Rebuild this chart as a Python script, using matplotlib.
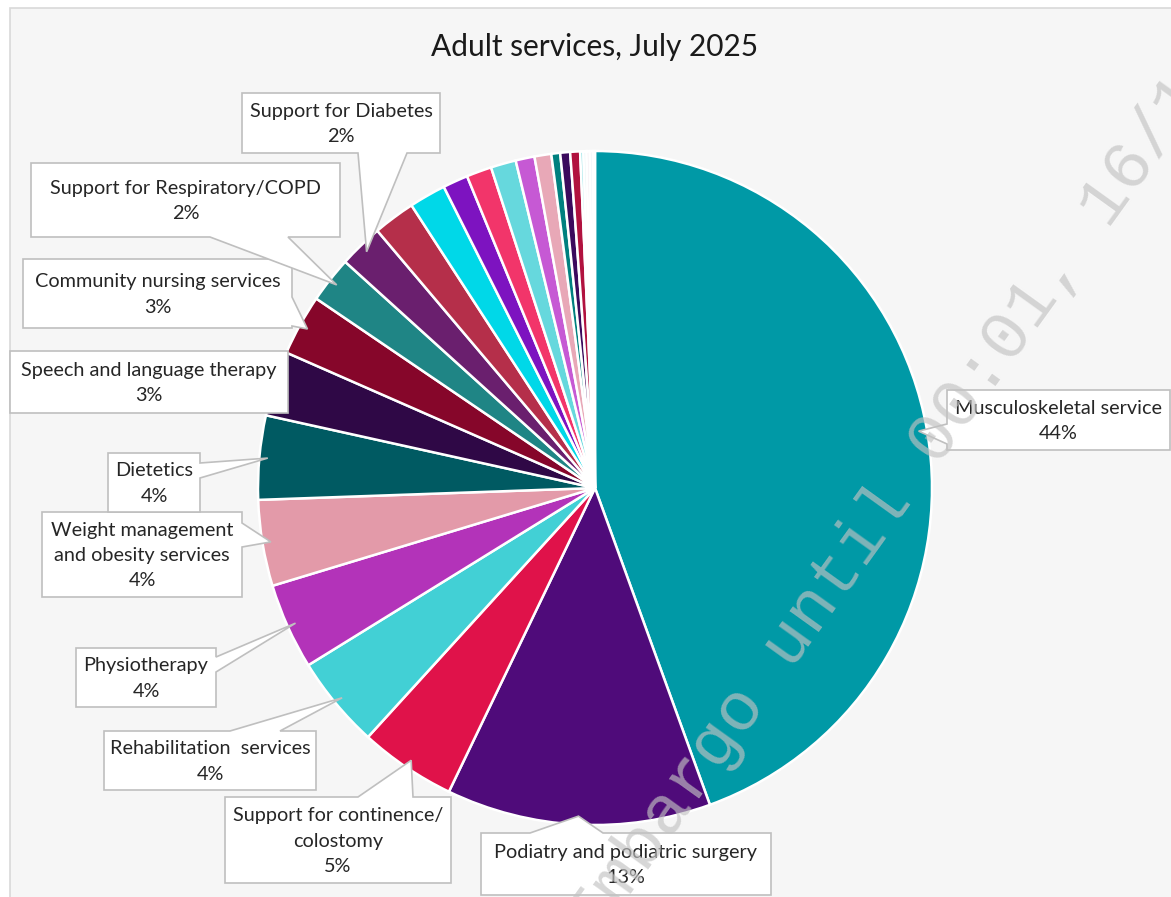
import numpy as np
import matplotlib
matplotlib.use("Agg")
import matplotlib.pyplot as plt
from matplotlib.patches import Polygon, Rectangle

# ---------------------------------------------------------------- data
services = [
    "Musculoskeletal service",
    "Podiatry and podiatric surgery",
    "Support for continence/\ncolostomy",
    "Rehabilitation  services",
    "Physiotherapy",
    "Weight management\nand obesity services",
    "Dietetics",
    "Speech and language therapy",
    "Community nursing services",
    "Support for Respiratory/COPD",
    "Support for Diabetes",
] + [None] * 15

shares = [44.2, 12.6, 4.6, 4.4, 4.1, 4.1, 4.0, 3.1, 2.9, 2.2, 2.1,
          2.0, 1.75, 1.2, 1.2, 1.2, 0.9, 0.8, 0.42, 0.47, 0.47, 0.15,
          0.15, 0.15, 0.15, 0.1]

colors = ["#0099A6", "#4F0B7A", "#E0124A", "#42D0D5", "#B333B9", "#E39AA9",
          "#005A62", "#2F0846", "#86062A", "#1F8585", "#6A1F6E",
          "#B52F4A", "#00D8E8", "#7D13C0", "#F2356A", "#66D8DD", "#C659D4",
          "#E8A8B7", "#00807F", "#3B0A5D", "#B1123F", "#7ADCE0",
          "#E6F4F5", "#F1E6EE", "#E9F1F7", "#F3EEF0"]

title = "Adult services, July 2025"
watermark = "Embargo until 00:01, 16/10/2025"

# ---------------------------------------------------------------- layout
W, H, DPI = 1171, 897, 100
CX, CY, R = 595, 488, 337                    # pie centre / radius in px

# callout boxes (px, y down): box, pointer side, pointer base span
callouts = {
    0: ((947, 390, 1170, 450), "left", (424, 444)),
    1: ((481, 833, 771, 895), "top", (530, 603)),
    2: ((225, 797, 451, 883), "top", (358, 413)),
    3: ((104, 731, 316, 790), "top", (230, 280)),
    4: ((76, 648, 216, 707), "right", (657, 672)),
    5: ((42, 512, 242, 597), "right", (523, 547)),
    6: ((108, 453, 200, 512), "right", (463, 478)),
    7: ((10, 351, 288, 413), None, None),
    8: ((23, 259, 292, 328), "right", (297, 326)),
    9: ((31, 163, 340, 237), "bottom", (210, 288)),
    10: ((242, 93, 440, 153), "bottom", (358, 407)),
}

LABEL_FONT = ["Lato", "DejaVu Sans"]

fig = plt.figure(figsize=(W / DPI, H / DPI), dpi=DPI, facecolor="white")

# background panel
bg = fig.add_axes([0, 0, 1, 1], zorder=0)
bg.set_xlim(0, W)
bg.set_ylim(H, 0)
bg.axis("off")
bg.add_patch(Rectangle((10, 8), W + 20, H + 20, facecolor="#F6F6F6",
                       edgecolor="#D9D9D9", linewidth=1.2))

# pie
k = 1.25
ax = fig.add_axes([(CX - k * R) / W, (H - CY - k * R) / H,
                   2 * k * R / W, 2 * k * R / H], zorder=1)
ax.patch.set_alpha(0)
ax.pie(shares, colors=colors, startangle=90, counterclock=False, radius=1,
       wedgeprops=dict(edgecolor="white", linewidth=1.8))
ax.set_aspect("auto")
ax.set_xlim(-k, k)
ax.set_ylim(-k, k)
ax.axis("off")

# overlay in pixel coordinates
ov = fig.add_axes([0, 0, 1, 1], zorder=2)
ov.patch.set_alpha(0)
ov.set_xlim(0, W)
ov.set_ylim(H, 0)
ov.axis("off")

ov.text(595, 47, title, ha="center", va="center", fontsize=21.5,
        family=LABEL_FONT, color="#1A1A1A")

total = float(sum(shares))
edges = np.concatenate([[0], np.cumsum(shares)]) / total * 360.0


def rim_point(i, r=0.975):
    theta = np.deg2rad((edges[i] + edges[i + 1]) / 2)
    disp = ax.transData.transform((r * np.sin(theta), r * np.cos(theta)))
    return ov.transData.inverted().transform(disp)


def callout_poly(box, side, base, apex):
    x0, y0, x1, y1 = box
    tl, tr, br, bl = (x0, y0), (x1, y0), (x1, y1), (x0, y1)
    if side == "top":
        return [tl, (base[0], y0), apex, (base[1], y0), tr, br, bl]
    if side == "right":
        return [tl, tr, (x1, base[0]), apex, (x1, base[1]), br, bl]
    if side == "bottom":
        return [tl, tr, br, (base[1], y1), apex, (base[0], y1), bl]
    if side == "left":
        return [tl, tr, br, bl, (x0, base[1]), apex, (x0, base[0])]
    return [tl, tr, br, bl]


for i, (box, side, base) in callouts.items():
    apex = tuple(rim_point(i))
    ov.add_patch(Polygon(callout_poly(box, side, base, apex), closed=True,
                         facecolor="white", edgecolor="#BFBFBF",
                         linewidth=1.2, joinstyle="miter"))
    pct = shares[i] / total * 100
    ov.text((box[0] + box[2]) / 2, (box[1] + box[3]) / 2 + 1,
            f"{services[i]}\n{pct:.0f}%", ha="center", va="center",
            fontsize=14.3, family=LABEL_FONT, color="#262626",
            linespacing=1.6, multialignment="center")

# diagonal embargo stamp
ov.text(597, 942, watermark, rotation=54.3, rotation_mode="anchor",
        ha="left", va="baseline", fontsize=50, family="Liberation Mono",
        color=(194 / 255, 194 / 255, 194 / 255), alpha=0.66, zorder=10,
        clip_on=False)

fig.savefig("out.png", dpi=DPI, facecolor="white")
